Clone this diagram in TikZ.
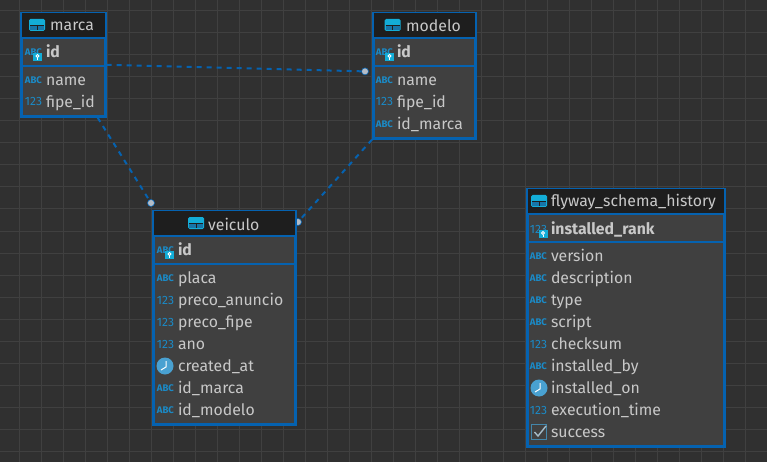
\documentclass[tikz,border=0pt]{standalone}
\usepackage{fontspec}
\setmainfont{Fira Sans}
\usepackage{xcolor}
\usetikzlibrary{positioning}
\definecolor{canvasbg}{HTML}{303030}
\definecolor{gridcol}{HTML}{404040}
\definecolor{tablebg}{HTML}{404040}
\definecolor{headbg}{HTML}{1E1E1E}
\definecolor{edgeblue}{HTML}{0562B0}
\definecolor{tagblue}{HTML}{1B8AC6}
\definecolor{textgrey}{HTML}{C8C8C8}
\definecolor{dotgrey}{HTML}{B4BCC6}
\tikzset{
  tblbox/.style={draw=edgeblue,fill=tablebg,line width=2.6pt,anchor=north west,inner sep=0pt},
  tblhead/.style={fill=headbg,anchor=north,inner sep=0pt,minimum height=24.6pt},
  tblkey/.style={anchor=north,inner sep=0pt,minimum height=27.6pt},
  tblsep/.style={draw=edgeblue,line width=2pt},
  tbltitle/.style={anchor=west,inner sep=0pt,text=textgrey,font=\fontsize{15.8}{17}\selectfont},
  colname/.style={inner sep=0pt,outer sep=0pt,text=textgrey,align=left,minimum height=22pt,text height=12pt,text depth=1pt,
    font=\fontsize{15.8}{17}\selectfont},
  colkey/.style={colname,font=\fontsize{15.8}{17}\selectfont\bfseries},
  typetag/.style={inner sep=0pt,outer sep=0pt,text=tagblue},
  abccol/.style={colname,label={[typetag,font=\fontsize{9.6}{11}\selectfont\bfseries,label distance=4pt]left:ABC}},
  numcol/.style={colname,label={[typetag,font=\fontsize{12}{14}\selectfont,label distance=4pt]left:123}},
  abckey/.style={colkey,label={[typetag,font=\fontsize{9.6}{11}\selectfont\bfseries,label distance=4pt]left:ABC}},
  numkey/.style={colkey,label={[typetag,font=\fontsize{12}{14}\selectfont,label distance=4pt]left:123}},
  fklink/.style={draw=edgeblue,line width=2pt,dash pattern=on 5pt off 5pt},
  fkdot/.style={circle,fill=dotgrey,draw=edgeblue,line width=0.6pt,inner sep=0pt,minimum size=7pt},
  gridline/.style={draw=gridcol,line width=1pt},
  tableicon/.pic={
    \fill[tagblue!70!cyan,rounded corners=1.5pt] (-8,-6) rectangle (8,6);
    \fill[tagblue!85!black] (-7,0) rectangle (7,5);
    \draw[headbg,line width=0.9pt] (-7,0) -- (7,0) (0,0) -- (0,5);
  },
  keyicon/.pic={
    \fill[tagblue!70!cyan] (-4.5,-4) rectangle (4.5,4);
    \draw[white,line width=0.9pt] (0,-1) circle (1.6pt);
    \draw[white,line width=0.9pt] (0,0.6) -- (0,3);
  },
  clockicon/.pic={
    \fill[tagblue!80!white] (0,0) circle (8.5pt);
    \draw[white,line width=1pt] (1,-5) -- (1,1) -- (-4,4);
  },
  checkicon/.pic={
    \draw[tagblue!60!gray,line width=1.2pt] (-7.5,-7.5) rectangle (7.5,7.5);
    \draw[textgrey!80!tagblue,line width=1.4pt] (-4.5,0) -- (-1,4) -- (7,-6);
  }
}

\begin{document}
\begin{tikzpicture}[x=1pt,y=-1pt]
  \useasboundingbox (0,0) rectangle (767,462);
  \fill[canvasbg] (0,0) rectangle (767,462);
  \clip (0,0) rectangle (767,462);
  \draw[gridline,step=22pt,xshift=19.5pt,yshift=-11pt] (-22,-22) grid (748,462);

  % end dots
  \node[fkdot] (marcadot) at (365,71.4) {};
  \node[fkdot] (brandot) at (151,203) {};
  \node[fkdot] (modelodot) at (298,222) {};

  % marca
  \node[tblbox,minimum width=84pt,minimum height=103pt] (marca) at (20,12) {};
  \draw[fklink] (marca.east) -- (marcadot);
  \draw[fklink] ([xshift=-9pt]marca.south east) -- (brandot);
  \node[tblhead,minimum width=83pt] (marcahead) at ([yshift=-1pt]marca.north) {};
  \node[tbltitle] (marcatitle) at (50,26) {marca};
  \pic at (37,25) {tableicon};
  \node[tblkey,minimum width=83pt,below=0pt of marcahead] (marcakey) {};
  \draw[tblsep] (marcahead.south west) -- (marcahead.south east);
  \draw[tblsep] (marcakey.south west) -- (marcakey.south east);
  \node[abckey,text width=50pt,anchor=west] (marcaid) at (46,52) {id};
  \pic at (37.5,57) {keyicon};
  \node[abccol,text width=50pt,anchor=west] (marcaname) at (46,80) {name};
  \node[numcol,text width=50pt,below=0pt of marcaname] (marcafipe) {fipe\_id};

  % modelo
  \node[tblbox,minimum width=102pt,minimum height=125pt] (modelo) at (372,12) {};
  \draw[fklink] (modelo.south west) -- (modelodot);
  \node[tblhead,minimum width=101pt] (modelohead) at ([yshift=-1pt]modelo.north) {};
  \node[tbltitle] (modelotitle) at (406,26) {modelo};
  \pic at (392.5,25) {tableicon};
  \node[tblkey,minimum width=101pt,below=0pt of modelohead] (modelokey) {};
  \draw[tblsep] (modelohead.south west) -- (modelohead.south east);
  \draw[tblsep] (modelokey.south west) -- (modelokey.south east);
  \node[abckey,text width=70pt,anchor=west] (modeloid) at (397,52) {id};
  \pic at (389.5,57) {keyicon};
  \node[abccol,text width=70pt,anchor=west] (modeloname) at (397,80) {name};
  \node[numcol,text width=70pt,below=0pt of modeloname] (modelofipe) {fipe\_id};
  \node[abccol,text width=70pt,below=0pt of modelofipe] (modelomarca) {id\_marca};

  % veiculo
  \node[tblbox,minimum width=142pt,minimum height=213pt] (veiculo) at (152,210) {};
  \node[tblhead,minimum width=141pt] (veiculohead) at ([yshift=-1pt]veiculo.north) {};
  \node[tbltitle] (veiculotitle) at (208,224) {veiculo};
  \pic at (196,223) {tableicon};
  \node[tblkey,minimum width=141pt,below=0pt of veiculohead] (veiculokey) {};
  \draw[tblsep] (veiculohead.south west) -- (veiculohead.south east);
  \draw[tblsep] (veiculokey.south west) -- (veiculokey.south east);
  \node[abckey,text width=110pt,anchor=west] (veiculoid) at (178,250) {id};
  \pic at (169.5,255) {keyicon};
  \node[abccol,text width=110pt,anchor=west] (veiculoplaca) at (178,278) {placa};
  \node[numcol,text width=110pt,below=0pt of veiculoplaca] (veiculoanuncio) {preco\_anuncio};
  \node[numcol,text width=110pt,below=0pt of veiculoanuncio] (veiculofipe) {preco\_fipe};
  \node[numcol,text width=110pt,below=0pt of veiculofipe] (veiculoano) {ano};
  \node[colname,text width=110pt,below=0pt of veiculoano] (veiculocreated) {created\_at};
  \pic at (165,366) {clockicon};
  \node[abccol,text width=110pt,below=0pt of veiculocreated] (veiculomarca) {id\_marca};
  \node[abccol,text width=110pt,below=0pt of veiculomarca] (veiculomodelo) {id\_modelo};

  % flyway_schema_history
  \node[tblbox,minimum width=197pt,minimum height=257pt] (flyway) at (526,188) {};
  \node[tblhead,minimum width=196pt] (flywayhead) at ([yshift=-1pt]flyway.north) {};
  \node[tbltitle] (flywaytitle) at (551,202) {flyway\_schema\_history};
  \pic at (539,201) {tableicon};
  \node[tblkey,minimum width=196pt,below=0pt of flywayhead] (flywaykey) {};
  \draw[tblsep] (flywayhead.south west) -- (flywayhead.south east);
  \draw[tblsep] (flywaykey.south west) -- (flywaykey.south east);
  \node[numkey,text width=165pt,anchor=west] (flywayrank) at (551,229) {installed\_rank};
  \pic at (543,234) {keyicon};
  \node[abccol,text width=165pt,anchor=west] (flywayversion) at (551,256) {version};
  \node[abccol,text width=165pt,below=0pt of flywayversion] (flywaydesc) {description};
  \node[abccol,text width=165pt,below=0pt of flywaydesc] (flywaytype) {type};
  \node[abccol,text width=165pt,below=0pt of flywaytype] (flywayscript) {script};
  \node[numcol,text width=165pt,below=0pt of flywayscript] (flywaycheck) {checksum};
  \node[abccol,text width=165pt,below=0pt of flywaycheck] (flywayby) {installed\_by};
  \node[colname,text width=165pt,below=0pt of flywayby] (flywayon) {installed\_on};
  \pic at (539,388) {clockicon};
  \node[numcol,text width=165pt,below=0pt of flywayon] (flywaytime) {execution\_time};
  \node[colname,text width=165pt,below=0pt of flywaytime] (flywaysuccess) {success};
  \pic at (539,432) {checkicon};
\end{tikzpicture}
\end{document}
